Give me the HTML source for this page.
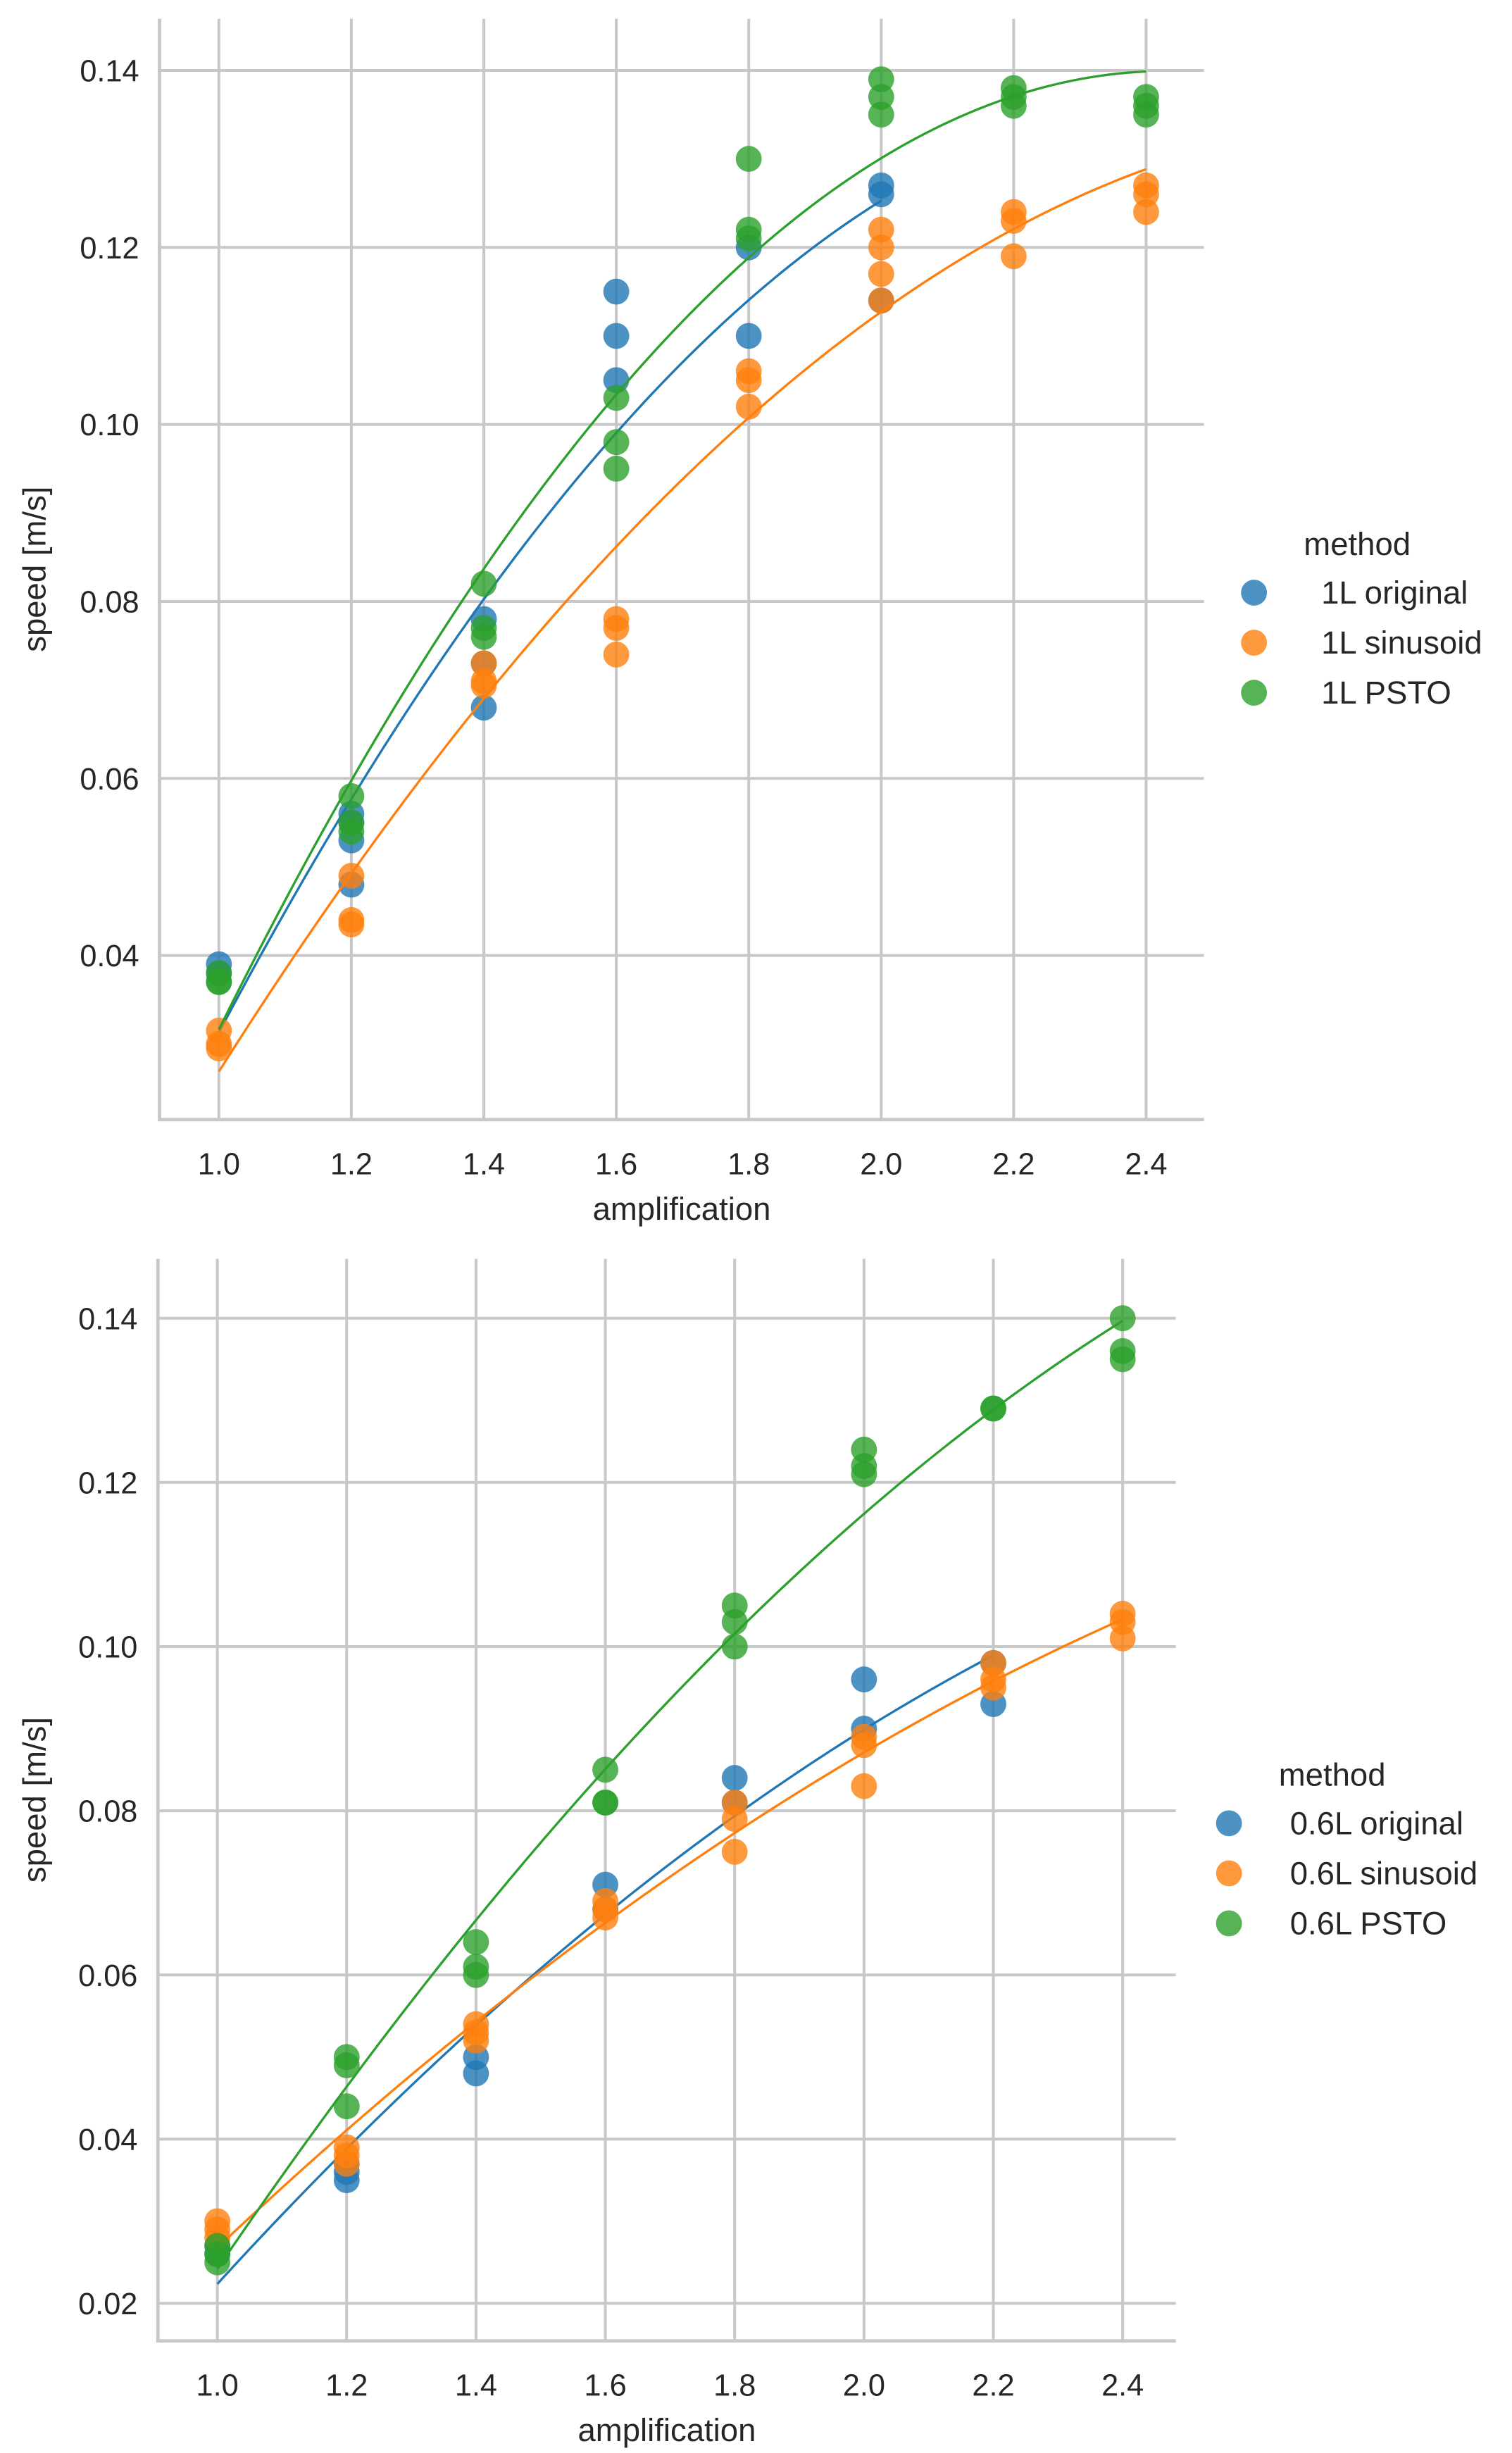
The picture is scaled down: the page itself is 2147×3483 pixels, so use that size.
<!DOCTYPE html>
<html><head><meta charset="utf-8">
<style>
html,body{margin:0;padding:0;background:#fff;}
svg{display:block;}
text{font-family:"Liberation Sans",Arial,sans-serif;fill:#262626;}
</style></head>
<body>
<svg id="chart" width="2147" height="3483" viewBox="0 0 967 1568.7" xmlns="http://www.w3.org/2000/svg"></svg>
<script>
// ---- data ----
const xTicks = [1.0,1.2,1.4,1.6,1.8,2.0,2.2,2.4];
const topYTicks = [0.04,0.06,0.08,0.10,0.12,0.14];
const botYTicks = [0.02,0.04,0.06,0.08,0.10,0.12,0.14];
const topNames = ["1L original","1L sinusoid","1L PSTO"];
const botNames = ["0.6L original","0.6L sinusoid","0.6L PSTO"];
const colors = ["#1f77b4","#ff7f0e","#2ca02c"];
// [x, y] pairs
const top1LOriginal = [[1.0,0.039],[1.0,0.038],[1.2,0.056],[1.2,0.055],[1.2,0.053],[1.2,0.048],[1.4,0.078],[1.4,0.073],[1.4,0.068],[1.6,0.115],[1.6,0.110],[1.6,0.105],[1.8,0.120],[1.8,0.110],[2.0,0.127],[2.0,0.126],[2.0,0.114]];
const top1LSinusoid = [[1.0,0.0315],[1.0,0.030],[1.0,0.0295],[1.2,0.049],[1.2,0.044],[1.2,0.0435],[1.4,0.073],[1.4,0.071],[1.4,0.0705],[1.6,0.078],[1.6,0.077],[1.6,0.074],[1.8,0.106],[1.8,0.105],[1.8,0.102],[2.0,0.122],[2.0,0.120],[2.0,0.117],[2.0,0.114],[2.2,0.124],[2.2,0.123],[2.2,0.119],[2.4,0.127],[2.4,0.126],[2.4,0.124]];
const top1LPSTO = [[1.0,0.038],[1.0,0.037],[1.0,0.037],[1.2,0.058],[1.2,0.055],[1.2,0.054],[1.4,0.082],[1.4,0.077],[1.4,0.076],[1.6,0.103],[1.6,0.098],[1.6,0.095],[1.8,0.130],[1.8,0.122],[1.8,0.121],[2.0,0.139],[2.0,0.137],[2.0,0.135],[2.2,0.138],[2.2,0.137],[2.2,0.136],[2.4,0.137],[2.4,0.136],[2.4,0.135]];
const bot06Original = [[1.0,0.027],[1.0,0.026],[1.2,0.036],[1.2,0.035],[1.2,0.037],[1.4,0.050],[1.4,0.048],[1.6,0.071],[1.6,0.068],[1.8,0.084],[1.8,0.081],[2.0,0.096],[2.0,0.090],[2.2,0.098],[2.2,0.093]];
const bot06Sinusoid = [[1.0,0.030],[1.0,0.029],[1.0,0.028],[1.2,0.039],[1.2,0.038],[1.2,0.037],[1.4,0.054],[1.4,0.053],[1.4,0.052],[1.6,0.069],[1.6,0.068],[1.6,0.067],[1.8,0.081],[1.8,0.079],[1.8,0.075],[2.0,0.089],[2.0,0.088],[2.0,0.083],[2.2,0.098],[2.2,0.096],[2.2,0.095],[2.4,0.104],[2.4,0.103],[2.4,0.101]];
const bot06PSTO = [[1.0,0.027],[1.0,0.026],[1.0,0.025],[1.2,0.050],[1.2,0.049],[1.2,0.044],[1.4,0.064],[1.4,0.061],[1.4,0.060],[1.6,0.085],[1.6,0.081],[1.6,0.081],[1.8,0.105],[1.8,0.103],[1.8,0.100],[2.0,0.124],[2.0,0.122],[2.0,0.121],[2.2,0.129],[2.2,0.129],[2.4,0.140],[2.4,0.136],[2.4,0.135]];

const NS="http://www.w3.org/2000/svg";
const svg=document.getElementById('chart');
function mk(tag,attrs,parent){const e=document.createElementNS(NS,tag);for(const k in attrs)e.setAttribute(k,attrs[k]);(parent||svg).appendChild(e);return e;}

function quadFit(pts){
  let S=[0,0,0,0,0],T=[0,0,0];
  pts.forEach(([x,y])=>{let p=1;for(let i=0;i<5;i++){S[i]+=p;if(i<3)T[i]+=p*y;p*=x;}});
  const A=[[S[0],S[1],S[2],T[0]],[S[1],S[2],S[3],T[1]],[S[2],S[3],S[4],T[2]]];
  for(let i=0;i<3;i++){for(let j=i+1;j<3;j++){const f=A[j][i]/A[i][i];for(let k=i;k<4;k++)A[j][k]-=f*A[i][k];}}
  const c=[0,0,0];
  for(let i=2;i>=0;i--){let s=A[i][3];for(let k=i+1;k<3;k++)s-=A[i][k]*c[k];c[i]=s/A[i][i];}
  return c;
}

function panel(cfg){
  const g=mk('g',{});
  
  
  const X=v=>cfg.x0+(v-1.0)/1.4*(cfg.x1-cfg.x0);
  const Y=v=>cfg.yA+(v-cfg.vA)/(cfg.vB-cfg.vA)*(cfg.yB-cfg.yA);
  xTicks.forEach(t=>{
    const l=mk('line',{x1:X(t),x2:X(t),y1:cfg.top,y2:cfg.bottom,stroke:'#c8c8c8','stroke-width':1.8},g);
    
    
    const tx=mk('text',{x:X(t),y:cfg.bottom+35,'font-size':19.5,'text-anchor':'middle'},g);
    tx.textContent=t.toFixed(1);
    
    
  });
  cfg.yTicks.forEach(t=>{
    const l=mk('line',{x1:cfg.left,x2:cfg.right,y1:Y(t),y2:Y(t),stroke:'#c8c8c8','stroke-width':1.8},g);
    
    
    const tx=mk('text',{x:cfg.left-13,y:Y(t)+7,'font-size':19.5,'text-anchor':'end'},g);
    tx.textContent=t.toFixed(2);
    
    
  });
  const sp=mk('path',{d:`M${cfg.left},${cfg.top}V${cfg.bottom}H${cfg.right}`,fill:'none',stroke:'#c8c8c8','stroke-width':2.2},g);
  
  
  cfg.series.forEach((pts,si)=>{
    const sg=mk('g',{},g);
    
    
    pts.forEach(([x,y])=>{
      const c=mk('circle',{cx:X(x),cy:Y(y),r:8.3,fill:colors[si],'fill-opacity':0.8},sg);
      
      
    });
    const co=quadFit(pts);
    const xs=pts.map(p=>p[0]);const mn=Math.min(...xs),mx=Math.max(...xs);
    let d='';
    for(let i=0;i<=100;i++){const x=mn+(mx-mn)*i/100;const y=co[0]+co[1]*x+co[2]*x*x;d+=(i?'L':'M')+X(x).toFixed(2)+','+Y(y).toFixed(2);}
    const p=mk('path',{d:d,fill:'none',stroke:colors[si],'stroke-width':1.5},sg);
    
    
  });
  const xl=mk('text',{x:(cfg.left+cfg.right)/2,y:cfg.bottom+64,'font-size':20.5,'text-anchor':'middle'},g);
  xl.textContent='amplification';
  
  
  const ym=(cfg.top+cfg.bottom)/2;
  const yl=mk('text',{x:29,y:ym,'font-size':20.5,'text-anchor':'middle',transform:`rotate(-90 29 ${ym})`},g);
  yl.textContent='speed [m/s]';
  
  
  const lg=mk('g',{},g);
  
  
  const lt=mk('text',{x:cfg.legX+66,y:cfg.legY+1,'font-size':20.5,'text-anchor':'middle'},lg);
  lt.textContent='method';
  
  
  cfg.names.forEach((n,i)=>{
    const yy=cfg.legY+32*(i+1);
    const c=mk('circle',{cx:cfg.legX,cy:yy-7,r:8.3,fill:colors[i],'fill-opacity':0.8},lg);
    
    
    const t=mk('text',{x:cfg.legX+cfg.legTx,y:yy,'font-size':20.5},lg);
    t.textContent=n;
    
    
  });
}

panel({name:'top-panel-1L',x0:140,x1:733,yA:45,vA:0.14,yB:611,vB:0.04,left:102,right:770,top:12,bottom:716,
  yTicks:topYTicks,series:[top1LOriginal,top1LSinusoid,top1LPSTO],names:topNames,legX:802,legY:354,legTx:43});
panel({name:'bottom-panel-06L',x0:139,x1:718,yA:843,vA:0.14,yB:1473,vB:0.02,left:101,right:752,top:805,bottom:1497,
  yTicks:botYTicks,series:[bot06Original,bot06Sinusoid,bot06PSTO],names:botNames,legX:786,legY:1141,legTx:39});
</script>
</body></html>
